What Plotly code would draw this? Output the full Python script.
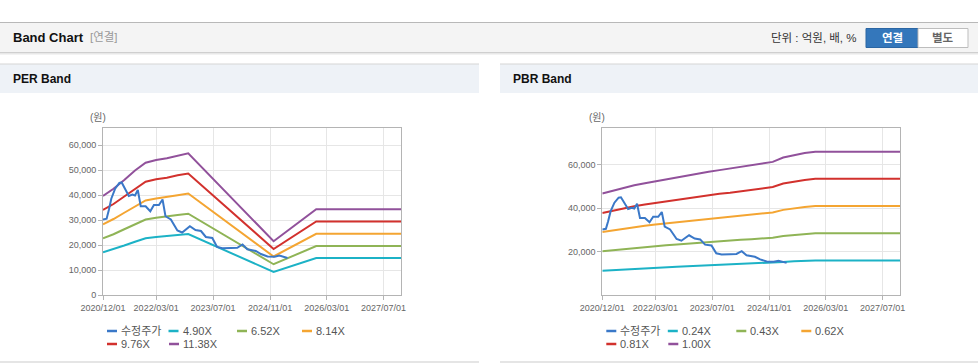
import plotly.graph_objects as go

W, H = 978, 364

# ---------------- data ----------------
price_dates = ["2020-12-01", "2021-01-01", "2021-01-20", "2021-02-10", "2021-03-15", "2021-04-20",
               "2021-05-10", "2021-06-10", "2021-07-10", "2021-08-10", "2021-09-01", "2021-09-25",
               "2021-10-20", "2021-12-01", "2022-01-10", "2022-02-10", "2022-03-25", "2022-04-25",
               "2022-05-20", "2022-07-05", "2022-08-30", "2022-10-10", "2022-12-15", "2023-02-01",
               "2023-03-20", "2023-05-01", "2023-06-25", "2023-08-05", "2023-09-20", "2023-12-01",
               "2024-01-25", "2024-03-10", "2024-04-20", "2024-07-01", "2024-08-15", "2024-10-10",
               "2024-12-10", "2025-01-20", "2025-03-30"]
price_values = [30200, 30500, 34000, 38500, 42500, 44800,
                45000, 42000, 39600, 40200, 39800, 42000,
                35500, 35500, 33500, 36000, 36000, 38200,
                31500, 30200, 25800, 25000, 27500, 26000,
                25600, 23200, 22800, 19200, 18700, 18800,
                18900, 20200, 18300, 17600, 16400, 15400,
                15300, 15800, 14800]

per_dates = ["2020-12-01", "2021-03-01", "2021-06-01", "2021-09-01", "2021-12-01", "2022-03-01",
             "2022-06-01", "2022-09-01", "2022-12-01", "2024-12-01", "2025-12-01", "2027-12-01"]
per_490 = [17100, 18300, 19800, 21300, 22700, 23200, 23600, 24000, 24400, 9200, 14800, 14800]
per_652 = [22700, 24300, 26300, 28400, 30200, 30900, 31300, 32000, 32500, 12300, 19600, 19600]
per_814 = [28300, 30400, 32900, 35400, 37800, 38600, 39100, 39900, 40600, 15400, 24500, 24500]
per_976 = [34000, 36400, 39400, 42500, 45300, 46300, 46900, 47900, 48600, 18400, 29400, 29400]
per_1138 = [39600, 42500, 46000, 49800, 52900, 54000, 54700, 55800, 56700, 21500, 34300, 34300]

pbr_dates = ["2020-12-01", "2021-03-01", "2021-06-01", "2021-09-01", "2021-12-01", "2022-03-01",
             "2022-06-01", "2022-09-01", "2022-12-01", "2023-03-01", "2023-06-01", "2023-09-01",
             "2023-12-01", "2024-03-01", "2024-06-01", "2024-09-01", "2024-12-01", "2025-03-01",
             "2025-06-01", "2025-09-01", "2025-12-01", "2027-12-01"]
pbr_024 = [11200, 11500, 11800, 12100, 12400, 12600, 12800, 13000, 13200, 13400, 13600, 13800,
           14000, 14200, 14400, 14500, 14700, 15200, 15500, 15700, 15900, 15900]
pbr_043 = [20100, 20600, 21200, 21700, 22100, 22500, 22900, 23300, 23700, 24100, 24400, 24700,
           25000, 25400, 25700, 26100, 26400, 27200, 27700, 28100, 28400, 28400]
pbr_062 = [29000, 29800, 30600, 31300, 31900, 32500, 33000, 33700, 34200, 34700, 35200, 35700,
           36100, 36600, 37100, 37600, 38000, 39200, 40000, 40500, 41000, 41000]
pbr_081 = [37800, 38900, 39900, 40900, 41700, 42400, 43200, 44000, 44600, 45400, 46000, 46600,
           47100, 47800, 48400, 49100, 49700, 51300, 52200, 53000, 53500, 53500]
pbr_100 = [46700, 48000, 49300, 50500, 51500, 52400, 53300, 54300, 55100, 56000, 56800, 57500,
           58200, 59000, 59800, 60600, 61300, 63300, 64500, 65400, 66000, 66000]

price_name = "수정주가"
per_names = ["4.90X", "6.52X", "8.14X", "9.76X", "11.38X"]
pbr_names = ["0.24X", "0.43X", "0.62X", "0.81X", "1.00X"]

tick_dates = ["2020-12-01", "2022-03-01", "2023-07-01", "2024-11-01", "2026-03-01", "2027-07-01"]
tick_labels = ["2020/12/01", "2022/03/01", "2023/07/01", "2024/11/01", "2026/03/01", "2027/07/01"]
per_yticks = [0, 10000, 20000, 30000, 40000, 50000, 60000]
pbr_yticks = [20000, 40000, 60000]

# ---------------- styles ----------------
price_color = "#3a78c8"
band_colors = ["#1cb2c6", "#8fb456", "#f4a532", "#d2312d", "#91519b"]
FONT = "Liberation Sans, Noto Sans CJK KR, sans-serif"

def px(x):
    return x / W

def py(y):
    return 1 - y / H

fig = go.Figure()

per_bands = [per_490, per_652, per_814, per_976, per_1138]
pbr_bands = [pbr_024, pbr_043, pbr_062, pbr_081, pbr_100]

for vals, name, col in zip(per_bands, per_names, band_colors):
    fig.add_trace(go.Scatter(x=per_dates, y=vals, name=name, mode="lines",
                             line=dict(color=col, width=2), xaxis="x", yaxis="y",
                             showlegend=False))
fig.add_trace(go.Scatter(x=price_dates, y=price_values, name=price_name, mode="lines",
                         line=dict(color=price_color, width=2), xaxis="x", yaxis="y",
                         showlegend=False))

for vals, name, col in zip(pbr_bands, pbr_names, band_colors):
    fig.add_trace(go.Scatter(x=pbr_dates, y=vals, name=name, mode="lines",
                             line=dict(color=col, width=2), xaxis="x2", yaxis="y2",
                             showlegend=False))
fig.add_trace(go.Scatter(x=price_dates, y=price_values, name=price_name, mode="lines",
                         line=dict(color=price_color, width=2), xaxis="x2", yaxis="y2",
                         showlegend=False))

# plot areas (pixels)
per_l, per_r, top, bot = 103, 401, 128, 295
pbr_l, pbr_r = 602.3, 900

axis_common = dict(showline=True, linecolor="#b4b4b4", linewidth=1, mirror=True,
                   showgrid=True, gridcolor="#e6e6e6", gridwidth=1,
                   ticks="outside", ticklen=4, tickcolor="#b4b4b4",
                   tickfont=dict(size=9, color="#666", family=FONT), zeroline=False,
                   fixedrange=True, automargin=False)

x_range = ["2020-12-01", "2027-11-27"]

fig.update_layout(
    width=W, height=H, margin=dict(l=0, r=0, t=0, b=0, pad=0, autoexpand=False),
    paper_bgcolor="white", plot_bgcolor="white",
    font=dict(family=FONT),
    xaxis=dict(domain=[px(per_l), px(per_r)], type="date", range=x_range,
               tickmode="array", tickvals=tick_dates, ticktext=tick_labels,
               anchor="y", **axis_common),
    yaxis=dict(domain=[py(bot), py(top)], range=[0, 66800], tickmode="array",
               tickvals=per_yticks, tickformat=",", anchor="x", **axis_common),
    xaxis2=dict(domain=[px(pbr_l), px(pbr_r)], type="date", range=x_range,
                tickmode="array", tickvals=tick_dates, ticktext=tick_labels,
                anchor="y2", **axis_common),
    yaxis2=dict(domain=[py(bot), py(top)], range=[0, 76900], tickmode="array",
                tickvals=pbr_yticks, tickformat=",", anchor="x2", **axis_common),
)

shapes = []
annotations = []

def rect(x0, y0, x1, y1, fill, line=None, lw=0):
    shapes.append(dict(type="rect", xref="paper", yref="paper",
                       x0=px(x0), x1=px(x1), y0=py(y1), y1=py(y0),
                       fillcolor=fill, line=dict(color=line or fill, width=lw),
                       layer="below"))

def hline(x0, x1, y, color, w=1):
    shapes.append(dict(type="line", xref="paper", yref="paper",
                       x0=px(x0), x1=px(x1), y0=py(y), y1=py(y),
                       line=dict(color=color, width=w), layer="below"))

def text(x, y, s, size=12, color="#333", anchor="left"):
    annotations.append(dict(xref="paper", yref="paper", x=px(x), y=py(y), text=s,
                            showarrow=False, xanchor=anchor, yanchor="middle",
                            font=dict(size=size, color=color, family=FONT)))

# top header bar
rect(0, 22.5, W, 52.5, "#f4f4f4")
hline(0, W, 22.5, "#b8b8b8", 1.2)
hline(0, W, 52.5, "#cfcfcf", 1)
hline(0, W, 53.8, "#e8e8e8", 1.5)
text(11, 37.5, "<b>Band Chart</b>", 13, "#111")
text(88, 37.5, "[연결]", 11.5, "#999")
text(859, 37.5, "단위 : 억원, 배, %", 11.5, "#333", "right")
rect(866, 28.5, 918, 47.5, "#3477bb", "#2b66a3", 1)
rect(918, 28.5, 968, 47.5, "#ffffff", "#bdbdbd", 1)
text(892, 38, "<b>연결</b>", 11.5, "#ffffff", "center")
text(943, 38, "<b>별도</b>", 11.5, "#666", "center")

# panel headers
for x0, x1, title in [(0, 479, "PER Band"), (500, W, "PBR Band")]:
    rect(x0, 64, x1, 93, "#eef2f7")
    hline(x0, x1, 64, "#d6d6d6", 1.2)
    hline(x0, x1, 362, "#dcdcdc", 1.5)
    text(x0 + 11, 79, "<b>" + title + "</b>", 12, "#111")

# unit labels
text(98, 118, "(원)", 10, "#666", "center")
text(596.7, 118, "(원)", 10, "#666", "center")

# legends (drawn from names/colors)
row_offsets = [[4, 65.5, 134, 199], [4, 66]]
row_y = [331, 344]
for left, names in [(per_l, per_names), (pbr_l, pbr_names)]:
    items = [(price_name, price_color)] + list(zip(names, band_colors))
    rows = [items[:4], items[4:]]
    for r, row in enumerate(rows):
        for (nm, col), off in zip(row, row_offsets[r]):
            sx = left + off
            hline(sx, sx + 10, row_y[r], col, 2.5)
            text(sx + 12, row_y[r], nm, 11, "#555")

fig.update_layout(shapes=shapes, annotations=annotations)

fig.write_html("out.html", config={"displayModeBar": False},
               post_script="document.body.style.margin='0';document.body.style.overflow='hidden';")
